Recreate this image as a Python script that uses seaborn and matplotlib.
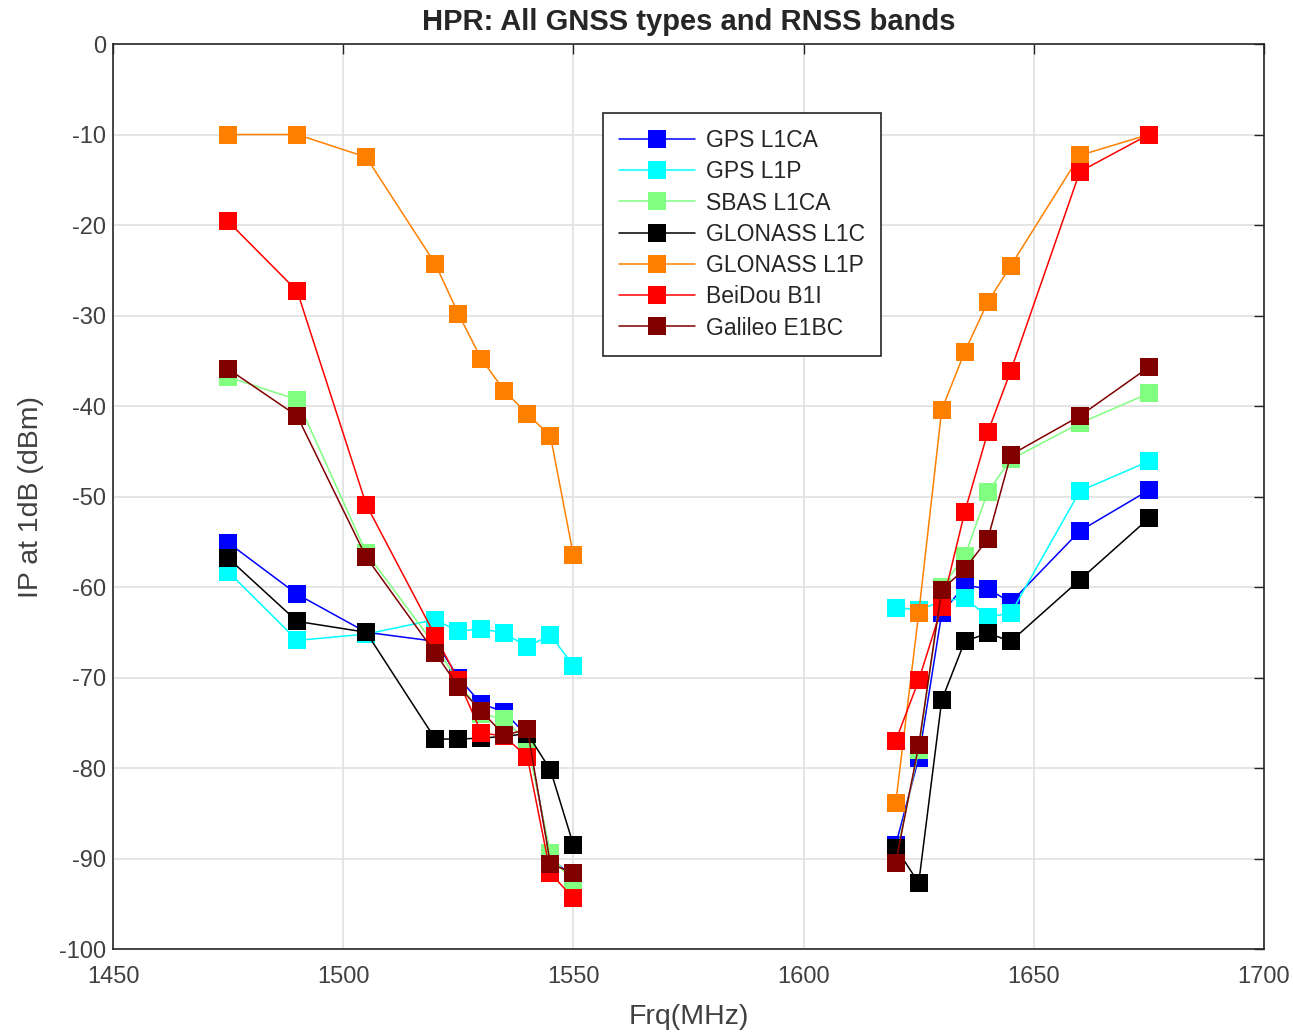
import matplotlib
matplotlib.use('Agg')
import matplotlib.pyplot as plt
import pandas as pd
import seaborn as sns

# frequencies for the two RNSS bands (gap between them)
frq_low = [1475, 1490, 1505, 1520, 1525, 1530, 1535, 1540, 1545, 1550]
frq_high = [1620, 1625, 1630, 1635, 1640, 1645, 1660, 1675]

names = ['GPS L1CA', 'GPS L1P', 'SBAS L1CA', 'GLONASS L1C', 'GLONASS L1P', 'BeiDou B1I', 'Galileo E1BC']
colors = ['#0000ff', '#00ffff', '#80ff80', '#000000', '#ff8000', '#ff0000', '#800000']

gps_l1ca_low = [-55.1, -60.8, -65.0, -66.0, -70.0, -72.9, -73.8, -76.5, -90.0, -92.0]
gps_l1ca_high = [-88.5, -78.9, -62.9, -59.8, -60.2, -61.7, -53.8, -49.3]
gps_l1p_low = [-58.3, -65.9, -65.2, -63.6, -64.9, -64.6, -65.1, -66.6, -65.3, -68.7]
gps_l1p_high = [-62.3, -62.5, -61.6, -61.2, -63.3, -62.9, -49.4, -46.1]
sbas_l1ca_low = [-36.8, -39.3, -56.2, -66.5, -70.5, -74.0, -74.6, -77.2, -89.4, -92.9]
sbas_l1ca_high = [-90.0, -78.0, -60.0, -56.6, -49.5, -45.9, -41.9, -38.6]
glonass_l1c_low = [-56.8, -63.8, -65.0, -76.8, -76.8, -76.7, -76.5, -76.2, -80.2, -88.5]
glonass_l1c_high = [-88.8, -92.7, -72.5, -66.0, -65.1, -66.0, -59.2, -52.4]
glonass_l1p_low = [-10.0, -10.0, -12.5, -24.3, -29.8, -34.8, -38.3, -40.9, -43.3, -56.5]
glonass_l1p_high = [-83.9, -62.9, -40.4, -34.0, -28.5, -24.5, -12.3, -10.0]
beidou_b1i_low = [-19.6, -27.3, -50.9, -65.4, -70.3, -76.1, -76.5, -78.8, -91.6, -94.4]
beidou_b1i_high = [-77.0, -70.3, -62.2, -51.7, -42.9, -36.1, -14.1, -10.0]
galileo_e1bc_low = [-35.9, -41.1, -56.7, -67.3, -71.0, -73.7, -76.4, -75.7, -90.6, -91.6]
galileo_e1bc_high = [-90.5, -77.5, -60.3, -58.0, -54.7, -45.4, -41.1, -35.7]

low_vals = [gps_l1ca_low, gps_l1p_low, sbas_l1ca_low, glonass_l1c_low,
            glonass_l1p_low, beidou_b1i_low, galileo_e1bc_low]
high_vals = [gps_l1ca_high, gps_l1p_high, sbas_l1ca_high, glonass_l1c_high,
             glonass_l1p_high, beidou_b1i_high, galileo_e1bc_high]

rows = []
for name, lo, hi in zip(names, low_vals, high_vals):
    for f, v in zip(frq_low, lo):
        rows.append({'frq': f, 'ip': v, 'type': name, 'band': name + '_low'})
    for f, v in zip(frq_high, hi):
        rows.append({'frq': f, 'ip': v, 'type': name, 'band': name + '_high'})
df = pd.DataFrame(rows)

sns.set_style('whitegrid')
plt.rcParams['font.family'] = ['Liberation Sans', 'DejaVu Sans']
plt.rcParams['axes.unicode_minus'] = False

fig = plt.figure(figsize=(12.93, 10.33), dpi=100)
ax = fig.add_axes([0.0874, 0.0813, 0.8902, 0.8761])

sns.lineplot(data=df, x='frq', y='ip', hue='type', units='band', estimator=None,
             hue_order=names, palette=colors, marker='s', markersize=12.5,
             markeredgewidth=0, linewidth=1.1, sort=False, ax=ax)

ax.set_xlim(1450, 1700)
ax.set_ylim(-100, 0)
ax.set_xticks(range(1450, 1701, 50))
ax.set_yticks(range(-100, 1, 10))
ax.tick_params(labelsize=17, labelcolor='#404040', direction='in', top=True, right=True,
               length=7.5, width=1.0, color='#262626', pad=5)
ax.tick_params(axis='x', pad=12)
ax.grid(True, color='#e0e0e0', linewidth=1.2)
for s in ax.spines.values():
    s.set_color('#262626')
    s.set_linewidth(1.2)
ax.set_xlabel('Frq(MHz)', fontsize=20.5, color='#404040', labelpad=12)
ax.set_ylabel('IP at 1dB (dBm)', fontsize=20.5, color='#404040', labelpad=11)
ax.set_title('HPR: All GNSS types and RNSS bands', fontsize=21, fontweight='bold', pad=10)

leg = ax.legend(loc='upper left', bbox_to_anchor=(0.4257, 0.9238), fontsize=16.5,
                frameon=True, fancybox=False, edgecolor='#262626', framealpha=1,
                handlelength=3.3, handletextpad=0.5, labelspacing=0.36,
                borderpad=0.7, borderaxespad=0, title=None)
leg.get_frame().set_linewidth(1.2)

fig.savefig('out.png', dpi=100)
